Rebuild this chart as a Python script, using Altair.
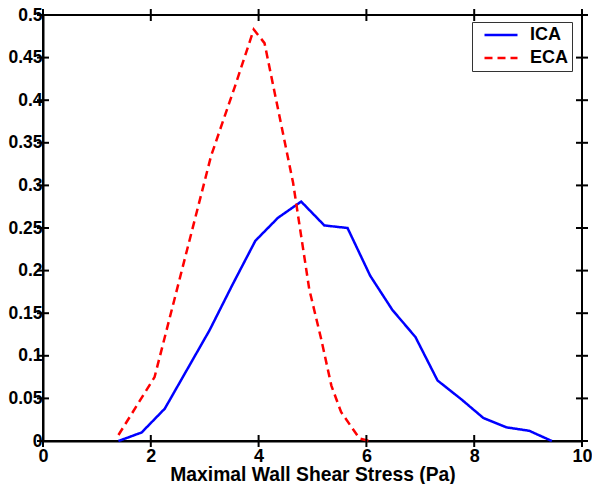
import altair as alt
import pandas as pd

# ---- data ----
ica_x = [1.40, 1.83, 2.26, 3.09, 3.52, 3.94, 4.36, 4.79, 5.22, 5.65, 6.07, 6.48, 6.91, 7.32, 7.76, 8.17, 8.60, 9.02, 9.44]
ica_y = [0.000, 0.010, 0.038, 0.130, 0.184, 0.235, 0.262, 0.281, 0.253, 0.250, 0.194, 0.154, 0.122, 0.071, 0.049, 0.027, 0.016, 0.012, 0.000]

eca_x = [1.40, 2.07, 3.12, 3.56, 3.91, 4.11, 4.64, 4.94, 5.16, 5.35, 5.53, 5.87, 6.05]
eca_y = [0.007, 0.075, 0.335, 0.416, 0.483, 0.467, 0.303, 0.178, 0.120, 0.065, 0.034, 0.003, 0.000]

series = ["ICA", "ECA"]
colors = ["#0000ff", "#ff0000"]
x_ticks = [0, 2, 4, 6, 8, 10]
y_ticks = [0, 0.05, 0.1, 0.15, 0.2, 0.25, 0.3, 0.35, 0.4, 0.45, 0.5]

x_title = "Maximal Wall Shear Stress (Pa)"

W, H = 539, 426
TICK = 6
FONT = "Liberation Sans"

df = pd.concat([
    pd.DataFrame({"x": ica_x, "y": ica_y, "s": "ICA"}),
    pd.DataFrame({"x": eca_x, "y": eca_y, "s": "ECA"}),
])

xscale = alt.Scale(domain=[0, 10], nice=False, zero=False)
yscale = alt.Scale(domain=[0, 0.5], nice=False, zero=False)

xaxis = alt.Axis(values=x_ticks, format="~r", tickSize=0, grid=False,
                 domainColor="black", domainWidth=2,
                 labelFont=FONT, labelFontSize=18, labelFontWeight="bold", labelColor="black",
                 labelPadding=6, labelFlush=False,
                 title=x_title, titleFont=FONT, titleFontSize=19.3, titleFontWeight="bold",
                 titleColor="black", titlePadding=0)
yaxis = alt.Axis(values=y_ticks, format="~r", tickSize=0, grid=False,
                 domainColor="black", domainWidth=2,
                 labelFont=FONT, labelFontSize=17.5, labelFontWeight="bold", labelColor="black",
                 labelPadding=1, labelFlush=False, title=None)

LEG_EXPR = "datum.label + '\u00a0\u00a0\u00a0'"

lines = alt.Chart(df).mark_line(strokeWidth=2.5, strokeCap="butt").encode(
    x=alt.X("x:Q", scale=xscale, axis=xaxis),
    y=alt.Y("y:Q", scale=yscale, axis=yaxis),
    color=alt.Color("s:N", scale=alt.Scale(domain=series, range=colors),
                    legend=alt.Legend(title=None, labelExpr=LEG_EXPR)),
    strokeDash=alt.StrokeDash("s:N", scale=alt.Scale(domain=series, range=[[1, 0], [8, 5]]),
                              legend=alt.Legend(title=None, labelExpr=LEG_EXPR)),
    order="x:Q",
)

xt = pd.DataFrame({"tx": x_ticks})
yt = pd.DataFrame({"ty": y_ticks})

def xtick(yc):
    return alt.Chart(xt).mark_tick(color="black", thickness=2, size=TICK * 2,
                                   orient="vertical", opacity=1).encode(
        x=alt.X("tx:Q", scale=xscale, axis=xaxis), y=alt.value(yc))

def ytick(xc):
    return alt.Chart(yt).mark_tick(color="black", thickness=2, size=TICK * 2,
                                   orient="horizontal", opacity=1).encode(
        y=alt.Y("ty:Q", scale=yscale, axis=yaxis), x=alt.value(xc))

chart = alt.layer(
    lines, xtick(H), xtick(0), ytick(0), ytick(W)
).properties(
    width=W, height=H,
    autosize=alt.AutoSizeParams(type="none"),
    padding={"left": 35, "top": 7, "right": 10, "bottom": 43},
    background="white",
).configure_view(
    stroke="black", strokeWidth=2
).configure_legend(
    orient="none", legendX=429, legendY=7,
    strokeColor="#333333", fillColor="white", padding=3,
    labelFont=FONT, labelFontSize=18, labelFontWeight="bold", labelColor="black",
    symbolType="stroke", symbolSize=1089, symbolStrokeWidth=2.5, symbolOffset=8,
    clipHeight=20, labelOffset=11, rowPadding=3,
)

chart.save("out.html", embed_options={"renderer": "svg", "actions": False})
